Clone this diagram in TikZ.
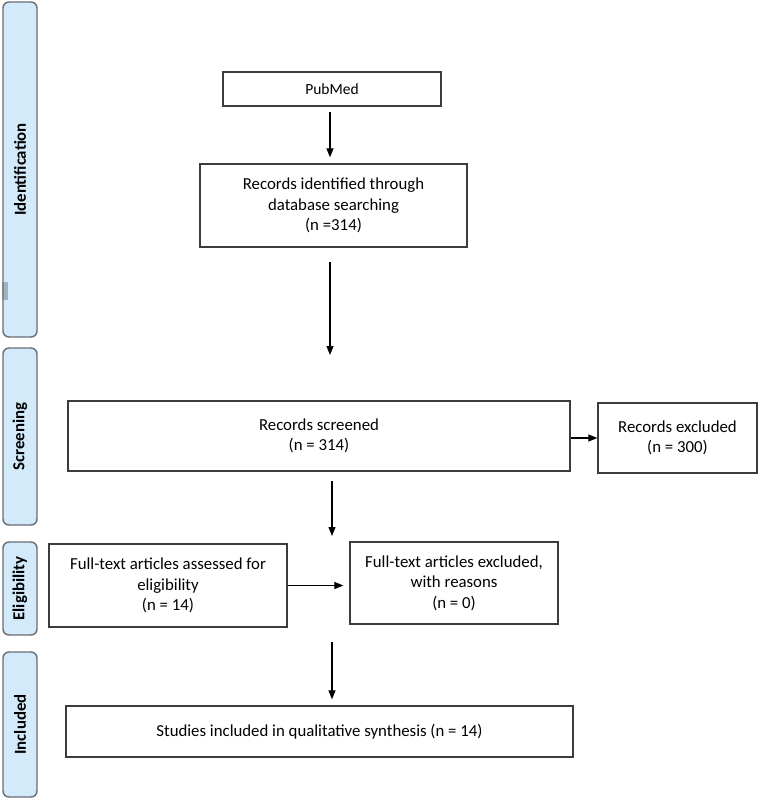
\documentclass[tikz,border=0pt]{standalone}
\usepackage{fontspec}
\setmainfont{Carlito}
\definecolor{phase-fill}{RGB}{211,234,250}
\definecolor{phase-line}{RGB}{105,110,115}
\definecolor{box-line}{RGB}{60,60,60}
\usetikzlibrary{arrows.meta}
\usetikzlibrary{positioning}

\begin{document}
\begin{tikzpicture}[%
            x=1pt,y=-1pt,
            font=\fontsize{16.8}{20.5}\selectfont,
            phase/.style={%
              draw=phase-line,
              fill=phase-fill,
              line width=1.4pt,
              rounded corners=6pt,
              minimum width=34pt,
              inner sep=0pt,
            },
            phaselabel/.style={%
              rotate=90,
              font=\fontsize{16.8}{20}\selectfont\bfseries,
            },
            record/.style={%
              draw=box-line,
              line width=1.3pt,
              align=center,
              inner sep=0pt,
            },
            flow/.style={%
              line width=1.2pt,
              -{Triangle[length=9pt,width=7pt]},
            }
          ]
            \useasboundingbox (0,0) rectangle (758,800);

            \node [phase,minimum height=335pt] (identification) at (20,169.5) {};
            \node [phaselabel] at (identification) {Identification};
            \fill [phase-line,opacity=0.45] (2,282) rectangle (8,300);
            \node [phase,minimum height=177pt] (screening) at (20,436.5) {};
            \node [phaselabel] at (screening) {Screening};
            \node [phase,minimum height=93pt] (eligibility) at (20,588.5) {};
            \node [phaselabel] at (eligibility) {Eligibility};
            \node [phase,minimum height=145pt] (included) at (20,724.5) {};
            \node [phaselabel] at (included) {Included};

            \node [%
              record,
              minimum width=218pt,
              minimum height=34pt,
              font=\fontsize{15.5}{19}\selectfont,
            ] (pubmed) at (332,89) {PubMed};
            \node [%
              record,
              minimum width=267pt,
              minimum height=83pt,
            ] (identified) at (333.5,205.5) {Records identified through\\database searching\\(n =314)};
            \node [%
              record,
              minimum width=502pt,
              minimum height=70pt,
            ] (screened) at (319,436) {Records screened\\(n = 314)};
            \node [%
              record,
              minimum width=159pt,
              minimum height=70pt,
            ] (excluded) at (677.5,438) {Records excluded\\(n = 300)};
            \node [%
              record,
              minimum width=238pt,
              minimum height=83pt,
            ] (assessed) at (168,585.5) {Full-text articles assessed for\\eligibility\\(n = 14)};
            \node [%
              record,
              minimum width=208pt,
              minimum height=82pt,
            ] (fulltext excluded) at (454,583) {Full-text articles excluded,\\with reasons\\(n = 0)};
            \node [%
              record,
              minimum width=507pt,
              minimum height=51pt,
            ] (studies) at (319.5,731.5) {Studies included in qualitative synthesis (n = 14)};

            \coordinate (pubmed out) at (330,112);
            \coordinate (identified out) at (330,262);
            \coordinate (screened in) at (330,355);
            \coordinate (screened out) at (332,481);
            \coordinate (assessed in) at (332,536);
            \coordinate (studies out) at (332,642);

            \draw [flow] (pubmed out) -- ([yshift=6pt]identified.north -| pubmed out);
            \draw [flow] (identified out) -- (screened in);
            \draw [flow] (screened.east |- excluded) -- (excluded.west);
            \draw [flow] (screened out) -- (assessed in);
            \draw [flow] (assessed.east) -- ([xshift=-6pt]fulltext excluded.west |- assessed.east);
            \draw [flow] (studies out) -- ([yshift=6pt]studies.north -| studies out);
          \end{tikzpicture}
\end{document}
